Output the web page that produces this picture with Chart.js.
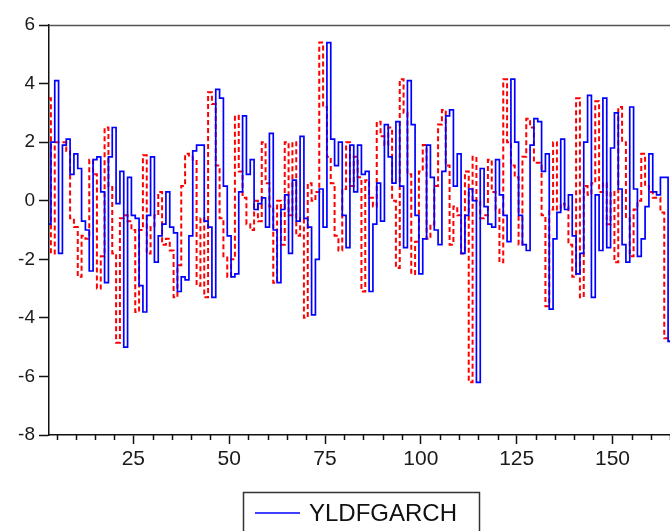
<!DOCTYPE html>
<html>
<head>
<meta charset="utf-8">
<script src="https://cdn.jsdelivr.net/npm/chart.js@4/dist/chart.umd.min.js"></script>
<style>
  html, body { margin: 0; padding: 0; background: #ffffff; }
  #wrap { width: 670px; height: 531px; position: relative; }
</style>
</head>
<body>
<div id="wrap"><canvas id="c" width="670" height="531"></canvas></div>
<script>
// ---- data ----
const firstObs = 3;
const xTickLabels = [25, 50, 75, 100, 125, 150];
const yTickLabels = [6, 4, 2, 0, -2, -4, -6, -8];
const legendLabel = "YLDFGARCH";

const yldfgarch = [
  -0.8, 2.0, 4.1, -1.8, 1.9, 2.1, 0.9, 1.6, 1.1, -0.7,
  -1.0, -2.4, 1.4, 1.5, 0.3, -2.8, 1.5, 2.5, -0.1, 1.0,
  -5.0, 0.8, -0.5, -0.6, -2.9, -3.8, -0.5, 1.5, -2.1, -1.2,
  -0.8, 0.3, -0.9, -1.1, -3.1, -2.6, -2.7, -1.2, 1.7, 1.9,
  1.9, -0.7, -0.9, -3.3, 3.8, 3.5, 0.5, -1.2, -2.6, -2.5,
  0.3, 2.9, 0.9, 1.4, -0.3, -0.1, 0.1, -0.9, 2.3, -1.0,
  -2.8, -0.3, 0.2, -1.8, 0.7, -0.7, 2.2, -0.6, -0.9, -3.9,
  -2.0, 0.4, -0.9, 5.4, 2.1, 1.2, 2.0, -0.5, -1.6, 1.9,
  0.3, 1.9, 0.9, 1.0, -3.1, -0.8, 0.6, -0.7, 2.6, 1.5,
  0.6, 2.7, 0.5, -1.6, 4.1, 2.6, -0.5, -2.5, -1.3, 1.9,
  0.8, -1.0, -1.5, 1.0, 2.9, 3.1, 0.5, 1.6, -1.8, -0.5,
  0.4, 0.0, -6.2, 1.1, -0.2, -0.8, -0.9, 1.4, 0.2, -0.5,
  -1.4, 4.15, 2.0, -0.5, -1.5, -1.7, 1.9, 2.8, 2.7, 1.0,
  1.6, -3.7, -1.3, -0.4, 2.1, -0.3, 0.2, -1.2, -2.5, -1.8,
  2.0, 3.6, -3.3, 0.2, -1.7, 3.5, -1.6, 1.8, 3.0, 0.4,
  -1.5, -2.1, 3.2, 0.4, -1.9, -1.3, -0.2, 1.6, 0.3, 0.2,
  0.8, 0.8, -4.8
];

const fitted = [
  3.5, -1.8, 2.0, 2.0, 2.0, 1.7, -0.6, -0.9, -2.6, -1.2,
  -1.3, 1.4, 0.9, -3.0, -1.9, 2.5, 0.5, -1.8, -4.85, -0.6,
  -0.5, -0.7, -1.0, -3.8, -1.0, 1.55, -1.8, -0.9, -0.5, 0.3,
  -1.5, -1.3, -1.7, -3.3, -2.2, 0.5, 1.6, 1.5, 1.4, -2.9,
  -0.6, -3.3, 3.7, 3.3, 1.2, -0.6, -1.9, -2.6, -2.0, 2.9,
  1.0, 0.1, -0.8, -1.0, 0.0, -0.7, 2.0, 0.6, -0.2, -2.8,
  0.0, -1.5, 2.0, -0.5, 2.0, -1.2, -0.6, -4.0, 0.6, 0.0,
  0.3, 5.4, 3.2, 1.5, 0.6, -1.2, -1.7, 0.4, 2.0, 0.5,
  1.5, 0.8, -3.1, 0.7, 0.1, -0.2, 2.7, 2.2, 1.9, 2.5,
  0.0, -2.3, 4.15, 3.0, 0.9, -2.5, -1.4, 1.0, 1.9, -1.3,
  -0.8, 0.5, 2.6, 3.1, 1.2, -1.5, -0.2, -0.5, -1.8, 1.0,
  -6.2, 1.5, 0.0, -0.6, -0.5, 1.4, 0.3, -0.3, -2.1, 4.15,
  2.0, 1.2, 0.8, -1.5, 1.5, 2.8, 2.5, 1.3, 1.3, -0.5,
  -3.6, -0.3, 2.0, -0.3, -0.1, -0.2, -1.5, -2.6, 3.5, -3.3,
  0.5, 0.2, 0.6, 3.4, 0.3, 0.6, -0.8, 0.3, -2.1, 3.2,
  2.0, -0.6, -1.9, -0.3, 0.0, 1.6, 0.5, 0.3, 0.1, 0.1,
  -0.4, -4.7, -4.8
];

const xMin = 3, xMax = 165;
const yMin = -8, yMax = 6;

const toPoints = arr => arr.map((v, i) => ({ x: firstObs + i, y: v }));

const FONT = "'Liberation Sans', Arial, sans-serif";

// minor ticks on the x axis + top frame line
const framePlugin = {
  id: 'frame',
  afterDraw(chart) {
    const ctx = chart.ctx;
    const a = chart.chartArea;
    const xs = chart.scales.x;
    ctx.save();
    ctx.strokeStyle = '#555';
    ctx.lineWidth = 1.5;
    ctx.beginPath();
    ctx.moveTo(a.left, a.top + 0.5);
    ctx.lineTo(a.right, a.top + 0.5);
    ctx.stroke();
    ctx.strokeStyle = '#111';
    ctx.lineWidth = 1.5;
    ctx.beginPath();
    for (let v = 5; v <= xMax; v += 5) {
      if (v < xMin) continue;
      if (xTickLabels.includes(v)) continue;
      const px = Math.round(xs.getPixelForValue(v)) + 0.5;
      ctx.moveTo(px, a.bottom);
      ctx.lineTo(px, a.bottom + 5);
    }
    ctx.stroke();
    ctx.restore();
  }
};

// legend box like the reference
const legendPlugin = {
  id: 'boxLegend',
  afterDraw(chart) {
    const ctx = chart.ctx;
    ctx.save();
    ctx.strokeStyle = '#333';
    ctx.lineWidth = 1.5;
    ctx.strokeRect(243.5, 492.5, 236, 60);
    ctx.strokeStyle = chart.data.datasets[0].borderColor;
    ctx.lineWidth = 1.5;
    ctx.beginPath();
    ctx.moveTo(255, 513);
    ctx.lineTo(300, 513);
    ctx.stroke();
    ctx.fillStyle = '#111';
    ctx.font = '24px ' + FONT;
    ctx.textBaseline = 'middle';
    ctx.textAlign = 'left';
    ctx.fillText(legendLabel, 309, 514);
    ctx.restore();
  }
};

new Chart(document.getElementById('c'), {
  type: 'line',
  data: {
    datasets: [
      {
        label: legendLabel,
        data: toPoints(yldfgarch),
        borderColor: '#0000ff',
        borderWidth: 1.7,
        pointRadius: 0,
        stepped: 'middle',
        fill: false,
        order: 0
      },
      {
        label: '',
        data: toPoints(fitted),
        borderColor: '#ff0000',
        borderWidth: 2,
        borderDash: [5, 3],
        pointRadius: 0,
        stepped: 'middle',
        fill: false,
        order: 1
      }
    ]
  },
  options: {
    responsive: false,
    animation: false,
    devicePixelRatio: 1,
    layout: { padding: { top: 25, left: 0, right: 0, bottom: 0 } },
    plugins: {
      legend: { display: false },
      tooltip: { enabled: false },
      title: { display: false }
    },
    scales: {
      x: {
        type: 'linear',
        min: xMin,
        max: xMax,
        afterFit(s) { s.height = 96; },
        afterBuildTicks(s) { s.ticks = xTickLabels.map(v => ({ value: v })); },
        ticks: {
          includeBounds: false,
          autoSkip: false,
          maxRotation: 0,
          padding: 3,
          color: '#1a1a1a',
          font: { family: FONT, size: 21 },
          callback: v => String(v)
        },
        grid: {
          drawOnChartArea: false,
          drawTicks: true,
          tickLength: 9,
          tickWidth: 1.5,
          tickColor: '#111'
        },
        border: { display: true, color: '#111', width: 1.5 }
      },
      y: {
        type: 'linear',
        min: yMin,
        max: yMax,
        afterFit(s) { s.width = 49; },
        afterBuildTicks(s) { s.ticks = yTickLabels.map(v => ({ value: v })); },
        ticks: {
          autoSkip: false,
          padding: 4,
          color: '#1a1a1a',
          font: { family: FONT, size: 19 },
          callback: v => String(v)
        },
        grid: {
          drawOnChartArea: false,
          drawTicks: true,
          tickLength: 10,
          tickWidth: 1.5,
          tickColor: '#111'
        },
        border: { display: true, color: '#111', width: 1.5 }
      }
    }
  },
  plugins: [framePlugin, legendPlugin]
});
</script>
</body>
</html>
